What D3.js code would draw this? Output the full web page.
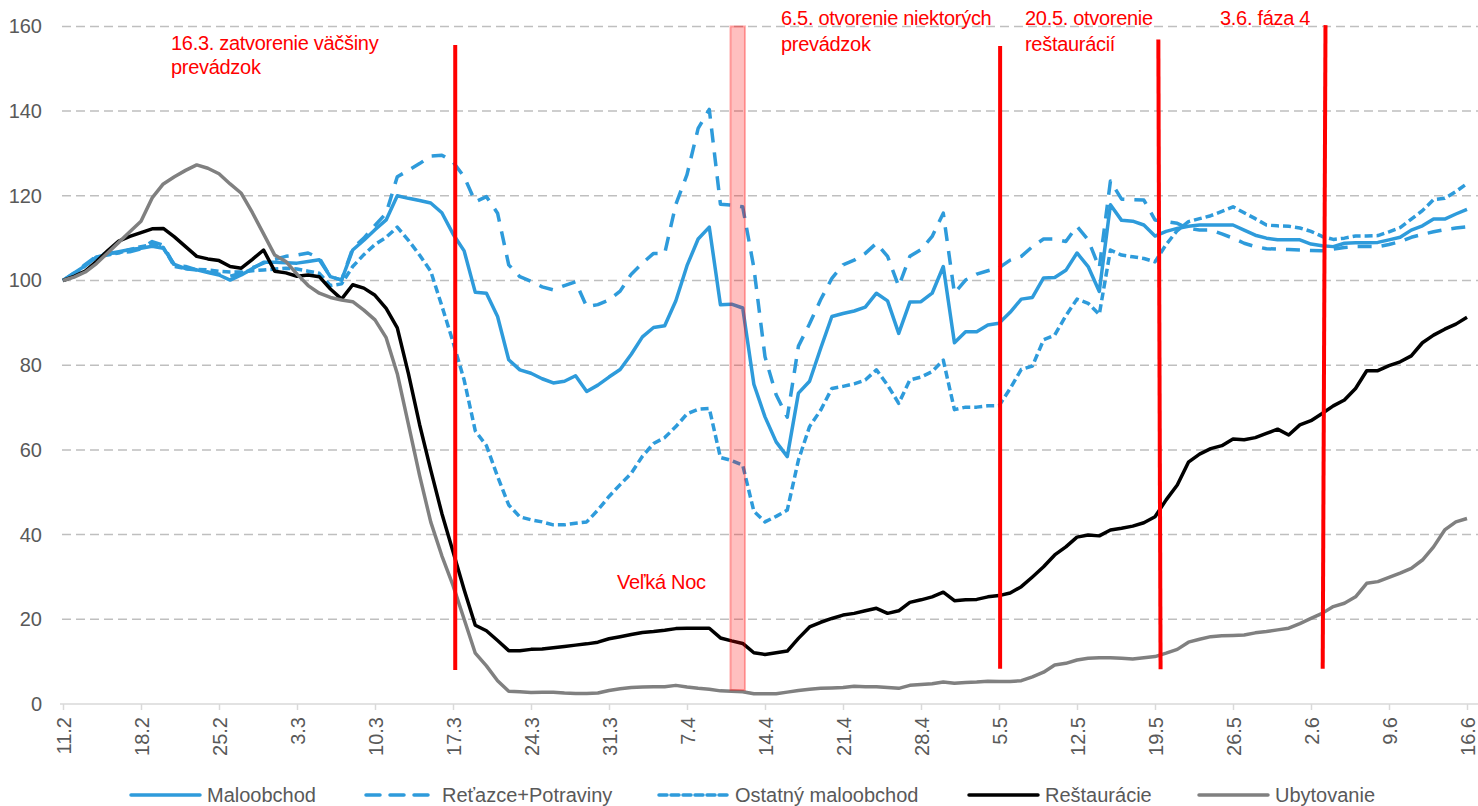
<!DOCTYPE html>
<html>
<head>
<meta charset="utf-8">
<script src="https://cdn.jsdelivr.net/npm/d3@7"></script>
<style>
body { margin: 0; background: #fff; }
svg text { font-family: "Liberation Sans", Arial, sans-serif; }
</style>
</head>
<body>
<svg width="1478" height="806"></svg>
<script>
// x axis: one point per day from 11.2 to 16.6, labels every 7 days
var tickLabels = ["11.2", "18.2", "25.2", "3.3", "10.3", "17.3", "24.3", "31.3", "7.4", "14.4",
    "21.4", "28.4", "5.5", "12.5", "19.5", "26.5", "2.6", "9.6", "16.6"];
var yTicks = [0, 20, 40, 60, 80, 100, 120, 140, 160];

// daily index values
var maloobchod = [100, 101.8, 103.5, 105.5, 106.3, 106.8, 107.3, 107.6, 108.1, 107.6,
    103.8, 102.8, 102.5, 101.9, 101.3, 100.1, 101.3, 102.8, 104.3, 104.3,
    104.2, 104.1, 104.5, 104.9, 100.9, 100.1, 107.2, 109.5, 112, 114.3,
    120, 119.4, 118.9, 118.3, 116, 111, 107, 97.2, 97, 91.5,
    81.3, 78.9, 78.1, 76.8, 75.8, 76.2, 77.5, 73.8, 75.3, 77.2,
    79, 82.6, 86.7, 88.9, 89.3, 95.2, 103.5, 109.8, 112.6, 94.3,
    94.4, 93.5, 75.5, 67.8, 61.9, 58.4, 73.4, 76.2, 84, 91.5,
    92.2, 92.8, 93.7, 97, 95.2, 87.5, 94.9, 95, 97, 103.3,
    85.3, 87.9, 87.9, 89.5, 89.9, 92.5, 95.6, 96, 100.6, 100.7,
    102.4, 106.5, 103.3, 97.4, 117.9, 114.2, 114, 113.1, 110.5, 111.6,
    112.3, 112.8, 113.1, 113.1, 113.1, 113.1, 111.9, 110.7, 110, 109.6,
    109.6, 109.6, 108.6, 108.2, 108, 108.8, 108.9, 108.9, 109, 109.6,
    110.2, 111.9, 112.9, 114.5, 114.5, 115.7, 116.8];

var retazce = [100, 101.8, 103.8, 105.7, 106.5, 106.5, 106.8, 107.5, 109.2, 108.3,
    103.5, 103.3, 102.5, 102, 101.5, 101, 101.7, 103, 104.1, 105,
    105.7, 106, 106.5, 105.3, 100.9, 100.1, 107.6, 110, 113, 115.9,
    124.5, 126, 127.6, 129.4, 129.6, 128, 124.5, 118.6, 119.8, 115.9,
    103.7, 100.9, 99.8, 98.5, 97.8, 98.8, 99.7, 93.8, 94.3, 95.4,
    97.5, 101.5, 104.1, 106.4, 106.4, 118, 125, 135.9, 140.4, 118,
    117.8, 117.4, 103, 82, 73, 67.7, 84.5, 89.8, 95.5, 100.5,
    103.7, 104.8, 106.4, 108.8, 105.7, 98.6, 105.7, 107.3, 110.4, 115.9,
    97, 100.1, 101.5, 102.3, 103, 104.8, 105.7, 108, 109.8, 109.8,
    109.2, 112.8, 109.6, 103, 123.5, 119.2, 119.1, 119, 114.3, 113.9,
    113.5, 112.3, 111.9, 111.9, 111, 110, 108.8, 108, 107.5, 107.4,
    107.3, 107.2, 107.1, 107, 107.4, 107.8, 108, 108, 108, 108.5,
    109.2, 110.2, 110.9, 111.5, 112, 112.4, 112.7];

var ostatny = [100, 101.5, 103.5, 105.5, 106, 106.5, 107.3, 108, 108.5, 107.8,
    103.3, 102.8, 102.6, 102.5, 102.2, 102, 102, 102.3, 102.5, 102.7,
    102.9, 102.7, 102.2, 101.7, 98.8, 99.2, 103.3, 106.1, 108.5, 110.2,
    112.6, 109.5, 106, 102.2, 94, 85.5, 76.5, 64.5, 61, 53.7,
    47, 44.2, 43.5, 43, 42.3, 42.3, 42.7, 43, 45.8, 49,
    51.8, 54.5, 58.5, 61.5, 62.9, 65.5, 68.5, 69.6, 69.8, 58.2,
    57.5, 56.4, 45.5, 43, 44.3, 45.8, 57.6, 65.5, 69.4, 74.5,
    75, 75.6, 76.5, 78.9, 75.3, 71, 76.5, 77.2, 78.5, 81.2,
    69.5, 70.1, 70.1, 70.4, 70.4, 74.5, 79, 79.8, 86, 87.1,
    91.7, 95.6, 94.6, 92, 107.2, 106, 105.6, 105.2, 104.4, 108.5,
    111.8, 113.9, 114.6, 115.3, 116.3, 117.4, 116, 114.6, 113.1, 112.9,
    112.8, 112.4, 111.6, 110.4, 109.7, 110, 110.5, 110.5, 110.6, 111.5,
    112.5, 114.5, 116.5, 119.1, 119.4, 121, 122.9];

var restauracie = [100, 101, 102.2, 104.5, 107, 109.3, 110.4, 111.3, 112.2, 112.3,
    110.3, 108, 105.7, 105.1, 104.7, 103.3, 102.9, 105, 107.2, 102.2,
    101.8, 101, 101.3, 100.9, 98, 95.6, 99, 98.2, 96.5, 93.4,
    88.8, 78, 66, 55.3, 45, 36, 27, 18.6, 17.3, 15,
    12.6, 12.6, 12.9, 13, 13.3, 13.6, 13.9, 14.2, 14.6, 15.4,
    15.9, 16.4, 16.9, 17.1, 17.4, 17.8, 17.9, 17.9, 17.9, 15.6,
    14.9, 14.3, 12.1, 11.7, 12.1, 12.5, 15.5, 18.2, 19.3, 20.2,
    21, 21.4, 22, 22.6, 21.4, 22, 24, 24.6, 25.3, 26.4,
    24.4, 24.6, 24.7, 25.3, 25.6, 26.2, 27.7, 30, 32.4, 35.2,
    37.1, 39.4, 39.9, 39.7, 41.1, 41.5, 42, 42.8, 44.2, 48.2,
    51.7, 57.1, 59, 60.3, 61, 62.6, 62.4, 62.9, 63.9, 64.9,
    63.5, 65.9, 66.9, 68.6, 70.4, 71.8, 74.5, 78.7, 78.7, 79.9,
    80.8, 82.2, 85.3, 87.1, 88.5, 89.7, 91.3];

var ubytovanie = [100, 100.8, 102, 104, 106.5, 109, 111.5, 114, 119.5, 122.8,
    124.5, 126, 127.3, 126.5, 125.2, 122.8, 120.6, 116, 111, 106,
    104.5, 101.5, 98.8, 97, 96, 95.4, 95, 93, 90.7, 86.5,
    78, 66, 54, 43, 35, 28, 20, 12, 9, 5.5,
    3, 2.9, 2.7, 2.8, 2.8, 2.6, 2.5, 2.5, 2.6, 3.2,
    3.6, 3.9, 4, 4.1, 4.1, 4.4, 4, 3.7, 3.5, 3.1,
    3, 2.9, 2.4, 2.4, 2.4, 2.8, 3.2, 3.5, 3.7, 3.8,
    3.9, 4.2, 4.1, 4.1, 3.9, 3.7, 4.4, 4.6, 4.8, 5.2,
    4.9, 5.1, 5.2, 5.4, 5.3, 5.3, 5.5, 6.4, 7.5, 9.2,
    9.6, 10.4, 10.8, 10.9, 10.9, 10.8, 10.6, 10.9, 11.2, 12,
    12.9, 14.6, 15.3, 15.9, 16.1, 16.2, 16.3, 16.8, 17.1, 17.5,
    17.9, 19, 20.2, 21.4, 23, 23.8, 25.3, 28.5, 28.9, 29.9,
    30.9, 32, 34, 37.1, 41.1, 43, 43.8];

// annotations: vertical markers as [day from, value from, day to, value to]
var markers = [[35.2, 155.6, 35.2, 8.0], [84.1, 155.4, 84.1, 8.3],
    [98.3, 156.9, 98.5, 8.2], [113.3, 160.3, 113.05, 8.3]];
var easterBand = [59.9, 61.2];

var svg = d3.select("svg"),
    width = +svg.attr("width"),
    height = +svg.attr("height");

var x = d3.scaleLinear().domain([0, 126]).range([63, 1467]);
var y = d3.scaleLinear().domain([0, 160]).range([704, 26.4]);

var blue = "#2e9bdb";
var series = [
    {name: "Maloobchod", values: maloobchod, color: blue, dash: null},
    {name: "Reťazce+Potraviny", values: retazce, color: blue, dash: "14,10"},
    {name: "Ostatný maloobchod", values: ostatny, color: blue, dash: "8,4"},
    {name: "Reštaurácie", values: restauracie, color: "#000", dash: null},
    {name: "Ubytovanie", values: ubytovanie, color: "#808080", dash: null}
];

// gridlines
svg.append("g")
    .selectAll("line")
    .data(yTicks.slice(1))
    .enter().append("line")
    .attr("x1", 62).attr("x2", width)
    .attr("y1", function(d) { return y(d); })
    .attr("y2", function(d) { return y(d); })
    .style("stroke", "#bfbfbf")
    .style("stroke-width", 1.5)
    .style("stroke-dasharray", "9,5");

// y axis labels
var yAxis = svg.append("g")
    .attr("transform", "translate(50,0)")
    .call(d3.axisLeft(y).tickValues(yTicks).tickSize(0).tickPadding(8));
yAxis.select(".domain").remove();
yAxis.selectAll("text")
    .style("font-size", "20px")
    .style("fill", "#595959");

// x axis
svg.append("line")
    .attr("x1", 60).attr("x2", width)
    .attr("y1", y(0)).attr("y2", y(0))
    .style("stroke", "#d9d9d9")
    .style("stroke-width", 1.5);

var xAxis = svg.append("g")
    .attr("transform", "translate(0," + y(0) + ")")
    .call(d3.axisBottom(x)
        .tickValues(d3.range(0, 127, 7))
        .tickFormat(function(d, i) { return tickLabels[i]; })
        .tickSize(6)
        .tickSizeOuter(0));
xAxis.select(".domain").remove();
xAxis.selectAll(".tick line").style("stroke", "#d9d9d9").style("stroke-width", 1.5);
xAxis.selectAll("text")
    .attr("transform", "rotate(-90)")
    .attr("text-anchor", "end")
    .attr("x", -13)
    .attr("y", 0)
    .attr("dy", "0.35em")
    .style("font-size", "20px")
    .style("fill", "#595959");

// series lines
var line = d3.line()
    .x(function(d, i) { return x(i); })
    .y(function(d) { return y(d); });

svg.append("g")
    .selectAll("path")
    .data(series)
    .enter().append("path")
    .attr("d", function(d) { return line(d.values); })
    .style("fill", "none")
    .style("stroke", function(d) { return d.color; })
    .style("stroke-width", 3.5)
    .style("stroke-linejoin", "round")
    .style("stroke-dasharray", function(d) { return d.dash; });

// Easter band
svg.append("rect")
    .attr("x", x(easterBand[0]))
    .attr("y", y(160))
    .attr("width", x(easterBand[1]) - x(easterBand[0]))
    .attr("height", y(3.3) - y(160))
    .style("fill", "rgba(255,0,0,0.25)")
    .style("stroke", "rgba(255,0,0,0.3)")
    .style("stroke-width", 2);

// vertical red markers
svg.append("g")
    .selectAll("line")
    .data(markers)
    .enter().append("line")
    .attr("x1", function(d) { return x(d[0]); })
    .attr("y1", function(d) { return y(d[1]); })
    .attr("x2", function(d) { return x(d[2]); })
    .attr("y2", function(d) { return y(d[3]); })
    .style("stroke", "#ff0000")
    .style("stroke-width", 4);

// annotation texts
var notes = [
    {x: 171, y: 50, t: "16.3. zatvorenie väčšiny"},
    {x: 171, y: 74, t: "prevádzok"},
    {x: 781, y: 25, t: "6.5. otvorenie niektorých"},
    {x: 781, y: 51, t: "prevádzok"},
    {x: 1025, y: 25, t: "20.5. otvorenie"},
    {x: 1025, y: 51, t: "reštaurácií"},
    {x: 1220, y: 25, t: "3.6. fáza 4"},
    {x: 617, y: 589, t: "Veľká Noc"}
];
svg.append("g")
    .selectAll("text")
    .data(notes)
    .enter().append("text")
    .attr("x", function(d) { return d.x; })
    .attr("y", function(d) { return d.y; })
    .style("font-size", "20px")
    .style("letter-spacing", "-0.3px")
    .style("fill", "#ff0000")
    .text(function(d) { return d.t; });

// legend
var legendX = [131, 366, 659, 969, 1199];
var legend = svg.append("g")
    .selectAll("g")
    .data(series)
    .enter().append("g")
    .attr("transform", function(d, i) { return "translate(" + legendX[i] + ",795)"; });

legend.append("line")
    .attr("x1", 0).attr("x2", 69)
    .style("stroke", function(d) { return d.color; })
    .style("stroke-width", 3.5)
    .style("stroke-linecap", "round")
    .style("stroke-dasharray", function(d) { return d.dash; });

legend.append("text")
    .attr("x", 76)
    .attr("dy", "0.35em")
    .style("font-size", "20px")
    .style("fill", "#595959")
    .text(function(d) { return d.name; });
</script>
</body>
</html>
